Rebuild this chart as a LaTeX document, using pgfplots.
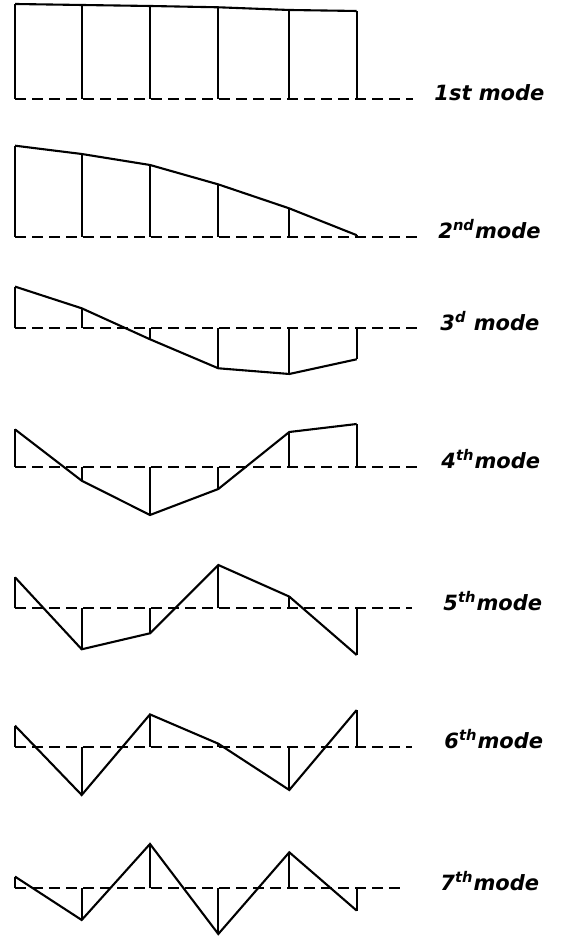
\documentclass[border=0pt]{standalone}
\usepackage{fontspec}
\setmainfont{DejaVu Sans}
\usepackage{pgfplots}
\usepackage{pgfplotstable}
\pgfplotsset{compat=1.18}

% station positions (px) and modal amplitudes (px, upward positive)
\pgfplotstableread{
x     m1    m2    m3     m4     m5     m6     m7
15    95    91    41.7   37.3   31     21     11.7
81.7  94    82.7  20    -14    -41    -48.3  -31.7
150   93    71.7 -11    -48.3  -25     32.3   44.3
218.3 91.7  52.3 -40    -22.3   43.3   3     -45.7
289.3 89    28.3 -45.7   34.7   11.7  -43.3   36
356.7 88    1.5  -31     42.7  -46.7   36.7  -22.3
}\modes

\pgfplotsset{modeaxis/.style={
    x=0.5pt, y=0.5pt,
    xmin=0, xmax=567, ymin=-60, ymax=100,
    hide axis, clip=false, anchor=origin}}

% #1 column, #2 baseline height (px), #3 end of dashed line, #4 label x, #5 label
\newcommand{\modeplot}[5]{%
\begin{axis}[modeaxis, at={(0pt,#2*0.5pt)}]
  \addplot[black, line width=0.85pt, dash pattern=on 5.5pt off 3pt] coordinates {(15,0) (#3,0)};
  \addplot[black, line width=1.05pt, ycomb] table[x=x, y=#1] {\modes};
  \addplot[black, line width=1.05pt] table[x=x, y=#1] {\modes};
  \node[anchor=base west, inner sep=0pt, font=\bfseries\itshape\fontsize{10.5}{12}\selectfont] at (axis cs:#4,-2) {#5};
\end{axis}}

\begin{document}
\begin{tikzpicture}
\modeplot{m1}{837}{413}{434}{1st mode}
\modeplot{m2}{699.3}{420}{438}{2\textsuperscript{nd}mode}
\modeplot{m3}{607.7}{420}{440}{3\textsuperscript{d} mode}
\modeplot{m4}{469.3}{420}{441}{4\textsuperscript{th}mode}
\modeplot{m5}{327.7}{412}{443}{5\textsuperscript{th}mode}
\modeplot{m6}{189.3}{412}{444}{6\textsuperscript{th}mode}
\modeplot{m7}{47.7}{403}{440}{7\textsuperscript{th}mode}
\pgfresetboundingbox
\path (0,0) rectangle (283.5pt,468pt);
\end{tikzpicture}
\end{document}
